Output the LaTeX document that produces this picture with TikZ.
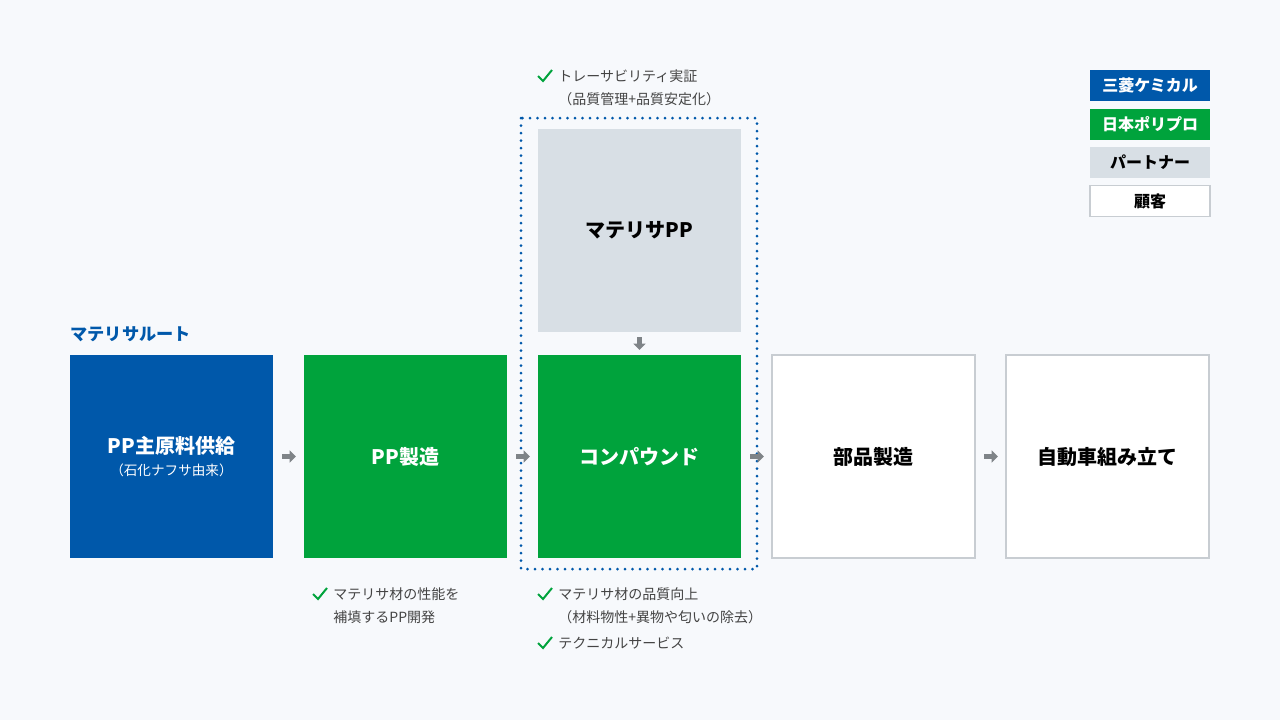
\documentclass[tikz,border=0pt]{standalone}
\usepackage{fontspec}
\setmainfont{Noto Sans CJK JP}
\usetikzlibrary{arrows.meta,positioning}
\definecolor{mcblue}{RGB}{0,88,170}
\definecolor{jpgreen}{RGB}{0,163,60}
\definecolor{partnergray}{RGB}{216,223,229}
\definecolor{edgegray}{RGB}{200,205,210}
\definecolor{arrowgray}{RGB}{127,132,136}
\definecolor{notegray}{RGB}{68,68,68}
\definecolor{bgcolor}{RGB}{247,249,252}
\tikzset{x=0.5pt, y=-0.5pt,
    stage/.style={minimum width=101.5pt, minimum height=101.5pt, inner sep=0pt,
        outer sep=0pt, align=center, font=\bfseries\fontsize{10}{12}\selectfont},
    mcstage/.style={stage, fill=mcblue, text=white},
    jpstage/.style={stage, fill=jpgreen, text=white},
    ptstage/.style={stage, fill=partnergray, text=black},
    custstage/.style={stage, fill=white, draw=edgegray, line width=0.75pt, text=black},
    legendbox/.style={minimum width=60pt, minimum height=15.5pt, inner sep=0pt,
        outer sep=0pt, font=\bfseries\fontsize{8}{10}\selectfont},
    flow/.style={draw=arrowgray, line width=2.5pt,
        -{Triangle[length=3.2pt, width=6pt]}},
    note/.style={anchor=west, inner sep=0pt, align=left, text=notegray,
        font=\fontsize{7}{11.5}\selectfont},
    tick/.style={draw=jpgreen, line width=1pt},
    }
\begin{document}
\begin{tikzpicture}
\fill[bgcolor] (0,0) rectangle (1280,720);
\useasboundingbox (0,0) rectangle (1280,720);

% route label and main stages
\node[anchor=west, inner sep=0pt, text=mcblue, font=\bfseries\fontsize{8.6}{10}\selectfont]
    (route) at (70,334) {マテリサルート};
\node[mcstage, anchor=north west] (supply) at (70,355)
    {PP主原料供給\\[-1pt]{\mdseries\fontsize{6.8}{8}\selectfont （石化ナフサ由来）}};
\node[jpstage, right=15.5pt of supply] (ppmake) {PP製造};
\node[jpstage, right=15.5pt of ppmake] (compound) {コンパウンド};
\node[custstage, right=15.5pt of compound] (parts) {部品製造};
\node[custstage, right=15.5pt of parts] (assembly) {自動車組み立て};
\node[ptstage, above=11.5pt of compound] (materisa) {マテリサPP};

% traceability frame
\draw[mcblue, line width=1.5pt, line cap=round, dash pattern=on 0pt off 3.75pt]
    ([shift={(-8.5pt,5.5pt)}]materisa.north west) rectangle
    ([shift={(8pt,-5.5pt)}]compound.south east);

% flow arrows
\draw[flow] ([xshift=4.5pt]supply.east) -- ([xshift=-4pt]ppmake.west);
\draw[flow] ([xshift=4.5pt]ppmake.east) -- ([xshift=-4pt]compound.west);
\draw[flow] ([xshift=4.5pt]compound.east) -- ([xshift=-4pt]parts.west);
\draw[flow] ([xshift=4.5pt]parts.east) -- ([xshift=-4pt]assembly.west);
\draw[flow] ([yshift=-2.5pt]materisa.south) -- ([yshift=2.5pt]compound.north);

% notes
\node[note] (trace) at (558,87.5) {トレーサビリティ実証\\（品質管理+品質安定化）};
\node[note] (ppnote) at (333,605.5) {マテリサ材の性能を\\補填するPP開発};
\node[note] (quality) at (558,605.5) {マテリサ材の品質向上\\（材料物性+異物や匂いの除去）};
\node[note] (service) at (558,643) {テクニカルサービス};
\foreach \x/\y in {538/76, 313/594, 538/594, 538/643}
    \draw[tick] (\x,\y) -- ++(5,5) -- ++(9,-11);

% legend
\node[legendbox, fill=mcblue, text=white, anchor=north west] (lgmc) at (1090,70) {三菱ケミカル};
\node[legendbox, fill=jpgreen, text=white, below=3.75pt of lgmc] (lgjp) {日本ポリプロ};
\node[legendbox, fill=partnergray, text=black, below=3.75pt of lgjp] (lgpt) {パートナー};
\node[legendbox, fill=white, draw=edgegray, line width=0.75pt, text=black,
    below=3.75pt of lgpt] (lgcust) {顧客};
\end{tikzpicture}
\end{document}
